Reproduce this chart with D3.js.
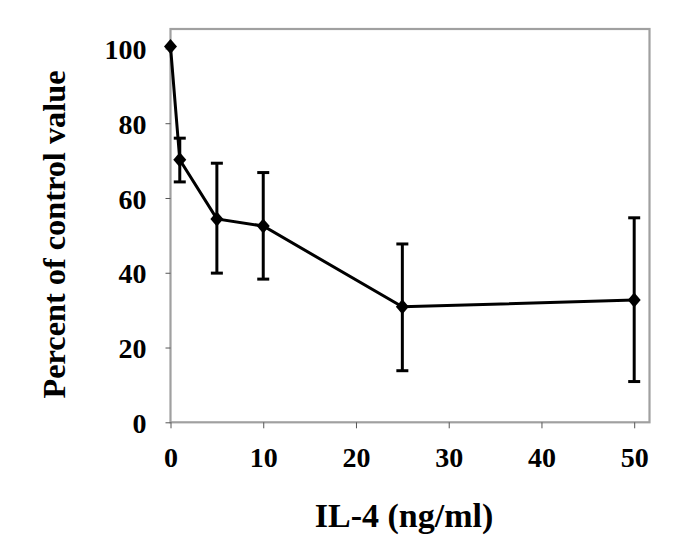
<!DOCTYPE html>
<html>
<head>
<meta charset="utf-8">
<script src="https://cdn.jsdelivr.net/npm/d3@7"></script>
<style>
  html, body { margin: 0; padding: 0; background: #fff; }
  svg { display: block; }
  text { font-family: "Liberation Serif", "Times New Roman", serif; font-weight: bold; fill: #000; }
</style>
</head>
<body>
<svg id="chart" width="685" height="552"></svg>
<script>
// Data
const doses = [0, 1, 5, 10, 25, 50];            // IL-4 (ng/ml)
const percent = [100.5, 70.2, 54.4, 52.5, 30.9, 32.7];
const errUpper = [100.5, 76.0, 69.3, 66.8, 47.7, 54.7];
const errLower = [100.5, 64.3, 39.9, 38.3, 13.8, 10.9];
const xTicks = [0, 10, 20, 30, 40, 50];
const yTicks = [0, 20, 40, 60, 80, 100];
const xLabel = "IL-4 (ng/ml)";
const yLabel = "Percent of control value";

const data = doses.map((d, i) => ({ x: d, y: percent[i], hi: errUpper[i], lo: errLower[i] }));

const svg = d3.select("#chart");
const pLeft = 170.5, pRight = 649.5, pTop = 29, pBottom = 422.3;

const x = d3.scaleLinear().domain([0, 51.65]).range([pLeft, pRight]);
const y = d3.scaleLinear().domain([0, 105.2]).range([pBottom, pTop]);

// Frame
svg.append("rect")
  .attr("x", pLeft).attr("y", pTop)
  .attr("width", pRight - pLeft).attr("height", pBottom - pTop)
  .attr("fill", "none").attr("stroke", "#a0a0a0").attr("stroke-width", 2.2);

// Y axis
const yAxis = svg.append("g").attr("transform", `translate(${pLeft},0)`)
  .call(d3.axisLeft(y).tickValues(yTicks).tickSize(5).tickPadding(19).tickFormat(d3.format("d")));
yAxis.select(".domain").remove();
yAxis.selectAll(".tick line").attr("stroke", "#555").attr("stroke-width", 1);
yAxis.selectAll(".tick text").style("font-size", "28px").attr("font-family", null).attr("dy", "0.36em");

// X axis
const xAxis = svg.append("g").attr("transform", `translate(0,${pBottom})`)
  .call(d3.axisBottom(x).tickValues(xTicks).tickSize(6).tickPadding(19).tickFormat(d3.format("d")));
xAxis.select(".domain").remove();
xAxis.selectAll(".tick line").attr("stroke", "#555").attr("stroke-width", 1);
xAxis.selectAll(".tick text").style("font-size", "28px").attr("font-family", null).attr("dy", "0.72em");

// Error bars
const eb = svg.append("g").attr("stroke", "#000").attr("stroke-width", 3);
data.filter(d => d.hi !== d.lo).forEach(d => {
  eb.append("line").attr("x1", x(d.x)).attr("x2", x(d.x)).attr("y1", y(d.hi)).attr("y2", y(d.lo));
  eb.append("line").attr("x1", x(d.x) - 6).attr("x2", x(d.x) + 6).attr("y1", y(d.hi)).attr("y2", y(d.hi));
  eb.append("line").attr("x1", x(d.x) - 6).attr("x2", x(d.x) + 6).attr("y1", y(d.lo)).attr("y2", y(d.lo));
});

// Line
svg.append("path").datum(data)
  .attr("fill", "none").attr("stroke", "#000").attr("stroke-width", 3)
  .attr("d", d3.line().x(d => x(d.x)).y(d => y(d.y)));

// Diamond markers
svg.append("g").selectAll("path").data(data).join("path")
  .attr("transform", d => `translate(${x(d.x)},${y(d.y)})`)
  .attr("d", "M0,-7.5L6.5,0L0,7.5L-6.5,0Z")
  .attr("fill", "#000");

// Axis titles
svg.append("text")
  .attr("x", 404).attr("y", 527)
  .attr("text-anchor", "middle")
  .style("font-size", "34px")
  .text(xLabel);

svg.append("text")
  .attr("transform", `translate(65,234.5) rotate(-90)`)
  .attr("text-anchor", "middle")
  .style("font-size", "32.3px")
  .text(yLabel);
</script>
</body>
</html>
